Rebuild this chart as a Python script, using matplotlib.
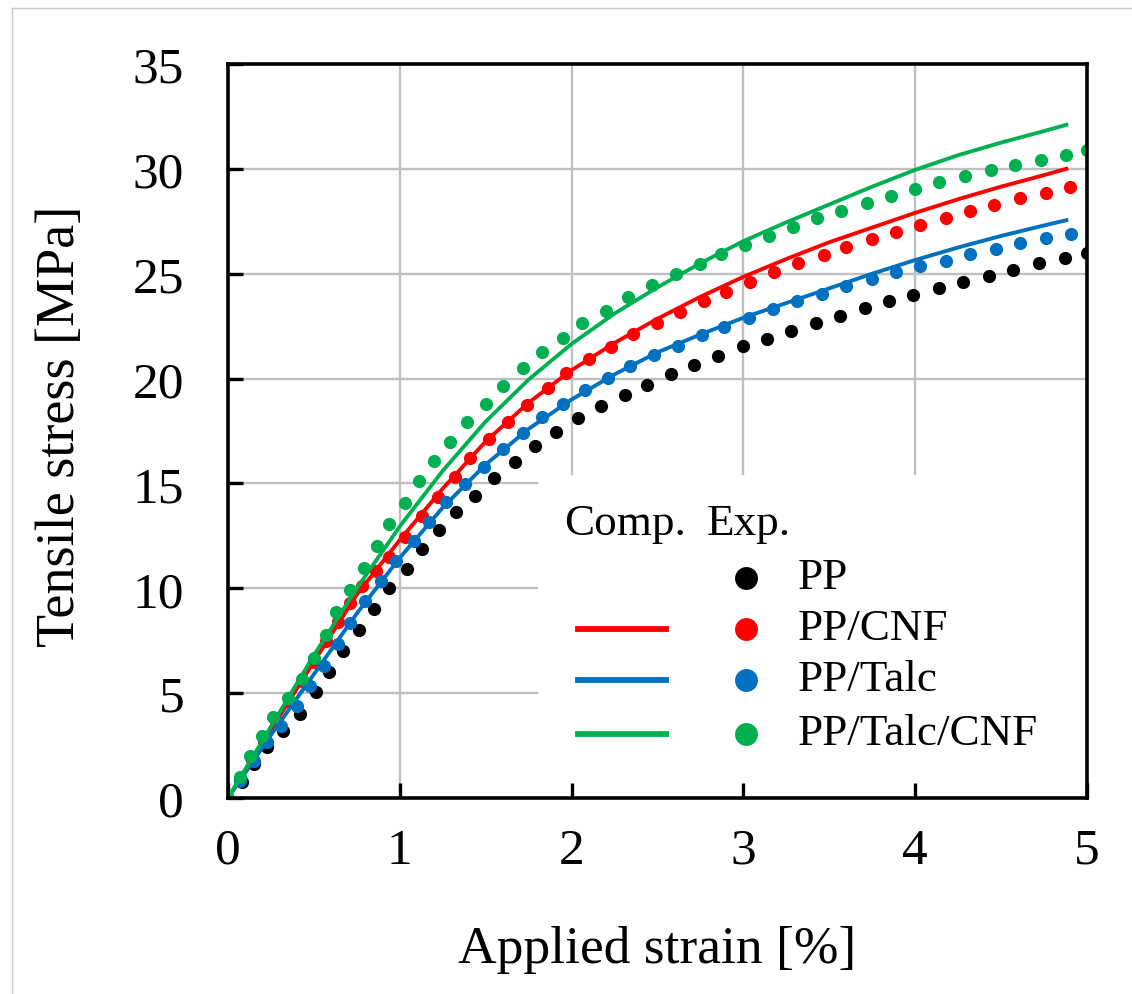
import matplotlib
matplotlib.use("Agg")
import matplotlib.pyplot as plt
from matplotlib.lines import Line2D

plt.rcParams['font.family'] = ['Liberation Serif', 'DejaVu Serif']

# experimental points (strain %, stress MPa)
pp_x = [0.08, 0.15, 0.23, 0.32, 0.42, 0.51, 0.59, 0.67, 0.76, 0.85, 0.94, 1.04, 1.13, 1.23, 1.33, 1.44,
        1.55, 1.67, 1.79, 1.91, 2.04, 2.17, 2.31, 2.44, 2.58, 2.71, 2.85, 3.00, 3.14, 3.28, 3.42, 3.56,
        3.71, 3.85, 3.99, 4.14, 4.28, 4.43, 4.57, 4.72, 4.87, 5.00]
pp_y = [0.75, 1.62, 2.42, 3.18, 4.01, 5.04, 6.02, 7.02, 8.01, 9.01, 10.0, 10.93, 11.85, 12.77, 13.63, 14.4,
        15.26, 16.04, 16.79, 17.43, 18.1, 18.68, 19.22, 19.69, 20.22, 20.65, 21.09, 21.53, 21.9, 22.28, 22.65, 23.0,
        23.35, 23.72, 24.0, 24.32, 24.62, 24.91, 25.19, 25.5, 25.75, 26.0]

cnf_x = [0.07, 0.14, 0.21, 0.28, 0.36, 0.43, 0.50, 0.57, 0.64, 0.71, 0.78, 0.86, 0.94, 1.03, 1.13, 1.22,
         1.32, 1.41, 1.52, 1.63, 1.74, 1.86, 1.97, 2.10, 2.23, 2.36, 2.50, 2.63, 2.77, 2.90, 3.04, 3.18,
         3.32, 3.47, 3.60, 3.75, 3.89, 4.03, 4.18, 4.32, 4.46, 4.61, 4.76, 4.90]
cnf_y = [0.9, 1.8, 2.7, 3.6, 4.6, 5.6, 6.5, 7.5, 8.4, 9.3, 10.1, 10.8, 11.5, 12.43, 13.43, 14.34,
         15.29, 16.21, 17.12, 17.95, 18.74, 19.54, 20.25, 20.93, 21.52, 22.13, 22.65, 23.16, 23.7, 24.14, 24.62, 25.07,
         25.49, 25.91, 26.26, 26.66, 27.01, 27.34, 27.67, 28.0, 28.28, 28.6, 28.85, 29.12]

talc_x = [0.07, 0.15, 0.23, 0.31, 0.40, 0.48, 0.56, 0.64, 0.71, 0.80, 0.89, 0.98, 1.08, 1.17, 1.27, 1.38,
          1.49, 1.60, 1.72, 1.83, 1.95, 2.08, 2.21, 2.34, 2.48, 2.62, 2.76, 2.89, 3.03, 3.17, 3.31, 3.46,
          3.60, 3.75, 3.89, 4.03, 4.18, 4.32, 4.47, 4.61, 4.76, 4.91]
talc_y = [0.83, 1.78, 2.65, 3.45, 4.4, 5.35, 6.31, 7.34, 8.33, 9.41, 10.36, 11.32, 12.27, 13.18, 14.09, 14.97,
          15.8, 16.64, 17.41, 18.15, 18.79, 19.46, 20.03, 20.59, 21.12, 21.57, 22.07, 22.48, 22.9, 23.32, 23.72, 24.03,
          24.4, 24.75, 25.07, 25.36, 25.62, 25.94, 26.18, 26.45, 26.69, 26.9]

tc_x = [0.0, 0.07, 0.13, 0.20, 0.26, 0.35, 0.43, 0.50, 0.57, 0.63, 0.71, 0.79, 0.87, 0.94, 1.03, 1.11,
        1.20, 1.29, 1.39, 1.50, 1.60, 1.72, 1.83, 1.95, 2.06, 2.20, 2.33, 2.47, 2.61, 2.75, 2.87, 3.01,
        3.15, 3.29, 3.43, 3.57, 3.72, 3.86, 4.00, 4.14, 4.29, 4.44, 4.58, 4.73, 4.88, 5.00]
tc_y = [0.0, 1.02, 2.02, 2.94, 3.88, 4.75, 5.66, 6.69, 7.77, 8.85, 9.92, 10.95, 12.03, 13.07, 14.07, 15.1,
        16.09, 16.99, 17.92, 18.79, 19.66, 20.49, 21.25, 21.94, 22.64, 23.24, 23.88, 24.46, 24.97, 25.46, 25.94, 26.39,
        26.81, 27.21, 27.64, 28.01, 28.36, 28.72, 29.04, 29.36, 29.64, 29.95, 30.19, 30.43, 30.66, 30.88]

# computed curves
comp_x = [0.0, 0.25, 0.5, 0.75, 1.0, 1.25, 1.5, 1.75, 2.0, 2.25, 2.5, 2.75, 3.0, 3.25, 3.5, 3.75,
          4.0, 4.25, 4.5, 4.75, 4.88]
comp_cnf = [0.0, 3.25, 6.5, 9.7, 12.3, 14.75, 17.0, 18.85, 20.4, 21.7, 22.85, 23.9, 24.85, 25.7, 26.5, 27.2,
            27.9, 28.55, 29.15, 29.7, 30.0]
comp_talc = [0.0, 3.0, 5.9, 8.8, 11.45, 13.85, 15.9, 17.6, 19.0, 20.2, 21.25, 22.1, 22.9, 23.6, 24.3, 25.0,
             25.65, 26.25, 26.8, 27.3, 27.55]
comp_tc = [0.0, 3.4, 6.8, 10.0, 12.95, 15.6, 17.95, 19.95, 21.65, 23.1, 24.35, 25.5, 26.55, 27.45, 28.3, 29.15,
           29.95, 30.65, 31.25, 31.8, 32.1]

labels = ['PP', 'PP/CNF', 'PP/Talc', 'PP/Talc/CNF']
colors = ['black', '#FF0000', '#0070C0', '#00B050']

x_ticks = [0, 1, 2, 3, 4, 5]
y_ticks = [0, 5, 10, 15, 20, 25, 30, 35]

fig = plt.figure(figsize=(11.32, 9.95), dpi=100)
ax = fig.add_axes([0.2014, 0.197, 0.7588, 0.7377])
ax.set_xlim(0, 5)
ax.set_ylim(0, 35)

# grid (cut where the legend sits)
leg_x0, leg_y1 = 1.8, 15.45
for xv in x_ticks[1:-1]:
    ax.plot([xv, xv], [leg_y1 if xv > leg_x0 else 0, 35], color='#c0c0c0', lw=1.7, zorder=0.5)
for yv in y_ticks[1:-1]:
    ax.plot([0, leg_x0 if yv < leg_y1 else 5], [yv, yv], color='#c0c0c0', lw=1.7, zorder=0.5)

exp_x = [pp_x, cnf_x, talc_x, tc_x]
exp_y = [pp_y, cnf_y, talc_y, tc_y]
comp = [None, comp_cnf, comp_talc, comp_tc]
for i in range(4):
    ax.plot(exp_x[i], exp_y[i], 'o', color=colors[i], ms=9.5, mec='none', zorder=2 + i)
    if comp[i] is not None:
        ax.plot(comp_x, comp[i], '-', color=colors[i], lw=2.8, zorder=2 + i)

# legend, drawn by hand
ta = ax.transAxes
line_x0, line_x1, dot_x, text_x = 0.4075, 0.5099, 0.6031, 0.6636
leg_fs = 32.5
ax.text((line_x0 + line_x1) / 2 + 0.004, 0.3597, 'Comp.', transform=ta, ha='center', va='baseline',
        fontsize=leg_fs, zorder=10)
ax.text(dot_x + 0.003, 0.3597, 'Exp.', transform=ta, ha='center', va='baseline', fontsize=leg_fs, zorder=10)
row_y = [0.2997, 0.2302, 0.1608, 0.0872]
for i in range(4):
    if comp[i] is not None:
        ax.add_line(Line2D([line_x0, line_x1], [row_y[i], row_y[i]], transform=ta, color=colors[i],
                           lw=4.2, zorder=10))
    ax.add_line(Line2D([dot_x], [row_y[i]], transform=ta, marker='o', ms=16.5, color=colors[i],
                       mec='none', ls='none', zorder=10))
    ax.text(text_x, row_y[i] - 0.0136, labels[i], transform=ta, ha='left', va='baseline',
            fontsize=leg_fs, zorder=10)

ax.set_xticks(x_ticks)
ax.set_yticks(y_ticks)
ax.tick_params(direction='in', length=11, width=2.4, labelsize=37, color='black')
ax.tick_params(axis='x', pad=21)
ax.tick_params(axis='y', pad=31.5)
for s in ax.spines.values():
    s.set_linewidth(2.6)
    s.set_zorder(20)

ax.text(-0.195, 0.508, 'Tensile stress [MPa]', transform=ta, rotation=90, ha='center', va='center',
        fontsize=39)
ax.text(0.5, -0.206, 'Applied strain [%]', transform=ta, ha='center', va='center', fontsize=38.5)

# thin grey frame edges of the original image
fig.add_artist(Line2D([12 / 1132, 12 / 1132], [0, 1 - 9 / 995], color='#c8c8c8', lw=1.0))
fig.add_artist(Line2D([12 / 1132, 1], [1 - 9 / 995, 1 - 9 / 995], color='#c8c8c8', lw=1.0))

fig.savefig('out.png', dpi=100)
